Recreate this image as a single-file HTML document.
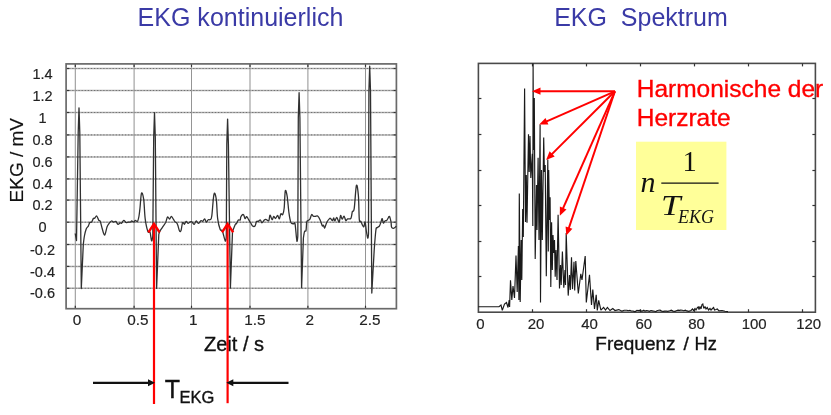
<!DOCTYPE html>
<html><head><meta charset="utf-8"><style>
html,body{margin:0;padding:0;background:#fff;}
body{width:831px;height:415px;overflow:hidden;position:relative;}
svg{position:absolute;left:0;top:0;will-change:transform;}
text{font-family:"Liberation Sans",sans-serif;stroke-width:0.35px;}
.gh{stroke:#b0b0b0;stroke-width:1.5;fill:none;}
.gd{stroke:#707070;stroke-width:1;stroke-dasharray:1.2 1.9;fill:none;}
.gv{stroke:#959595;stroke-width:1.05;fill:none;}
.tly{font-size:14.5px;fill:#222;stroke:#222;stroke-width:0.18px;}
.tk{stroke:#333;stroke-width:1.2;}
.tl{font-size:15.3px;fill:#222;stroke:#222;stroke-width:0.18px;}
.tr{font-size:15px;fill:#222;stroke:#222;stroke-width:0.18px;}
</style></head><body>
<svg width="831" height="415" viewBox="0 0 831 415">
<text x="137.6" y="25.6" font-size="26" fill="#3a3aa6" stroke="none" textLength="205.8" lengthAdjust="spacingAndGlyphs">EKG kontinuierlich</text>
<text x="554.2" y="25.6" font-size="26" fill="#3a3aa6" stroke="none" xml:space="preserve" textLength="173.6" lengthAdjust="spacingAndGlyphs">EKG  Spektrum</text>
<line x1="66.1" y1="68.5" x2="396.4" y2="68.5" class="gh"/><line x1="66.1" y1="68.5" x2="396.4" y2="68.5" class="gd"/><line x1="66.1" y1="68.5" x2="69.1" y2="68.5" class="tk"/><line x1="393.4" y1="68.5" x2="396.4" y2="68.5" class="tk"/><line x1="66.1" y1="90.5" x2="396.4" y2="90.5" class="gh"/><line x1="66.1" y1="90.5" x2="396.4" y2="90.5" class="gd"/><line x1="66.1" y1="90.5" x2="69.1" y2="90.5" class="tk"/><line x1="393.4" y1="90.5" x2="396.4" y2="90.5" class="tk"/><line x1="66.1" y1="112.5" x2="396.4" y2="112.5" class="gh"/><line x1="66.1" y1="112.5" x2="396.4" y2="112.5" class="gd"/><line x1="66.1" y1="112.5" x2="69.1" y2="112.5" class="tk"/><line x1="393.4" y1="112.5" x2="396.4" y2="112.5" class="tk"/><line x1="66.1" y1="134.9" x2="396.4" y2="134.9" class="gh"/><line x1="66.1" y1="134.9" x2="396.4" y2="134.9" class="gd"/><line x1="66.1" y1="134.9" x2="69.1" y2="134.9" class="tk"/><line x1="393.4" y1="134.9" x2="396.4" y2="134.9" class="tk"/><line x1="66.1" y1="156.9" x2="396.4" y2="156.9" class="gh"/><line x1="66.1" y1="156.9" x2="396.4" y2="156.9" class="gd"/><line x1="66.1" y1="156.9" x2="69.1" y2="156.9" class="tk"/><line x1="393.4" y1="156.9" x2="396.4" y2="156.9" class="tk"/><line x1="66.1" y1="178.9" x2="396.4" y2="178.9" class="gh"/><line x1="66.1" y1="178.9" x2="396.4" y2="178.9" class="gd"/><line x1="66.1" y1="178.9" x2="69.1" y2="178.9" class="tk"/><line x1="393.4" y1="178.9" x2="396.4" y2="178.9" class="tk"/><line x1="66.1" y1="200.1" x2="396.4" y2="200.1" class="gh"/><line x1="66.1" y1="200.1" x2="396.4" y2="200.1" class="gd"/><line x1="66.1" y1="200.1" x2="69.1" y2="200.1" class="tk"/><line x1="393.4" y1="200.1" x2="396.4" y2="200.1" class="tk"/><line x1="66.1" y1="222.2" x2="396.4" y2="222.2" class="gh"/><line x1="66.1" y1="222.2" x2="396.4" y2="222.2" class="gd"/><line x1="66.1" y1="222.2" x2="69.1" y2="222.2" class="tk"/><line x1="393.4" y1="222.2" x2="396.4" y2="222.2" class="tk"/><line x1="66.1" y1="244.5" x2="396.4" y2="244.5" class="gh"/><line x1="66.1" y1="244.5" x2="396.4" y2="244.5" class="gd"/><line x1="66.1" y1="244.5" x2="69.1" y2="244.5" class="tk"/><line x1="393.4" y1="244.5" x2="396.4" y2="244.5" class="tk"/><line x1="66.1" y1="266.4" x2="396.4" y2="266.4" class="gh"/><line x1="66.1" y1="266.4" x2="396.4" y2="266.4" class="gd"/><line x1="66.1" y1="266.4" x2="69.1" y2="266.4" class="tk"/><line x1="393.4" y1="266.4" x2="396.4" y2="266.4" class="tk"/><line x1="66.1" y1="288.3" x2="396.4" y2="288.3" class="gh"/><line x1="66.1" y1="288.3" x2="396.4" y2="288.3" class="gd"/><line x1="66.1" y1="288.3" x2="69.1" y2="288.3" class="tk"/><line x1="393.4" y1="288.3" x2="396.4" y2="288.3" class="tk"/><line x1="75.3" y1="63.9" x2="75.3" y2="308.7" class="gv"/><line x1="75.3" y1="63.9" x2="75.3" y2="66.9" class="tk"/><line x1="75.3" y1="305.7" x2="75.3" y2="308.7" class="tk"/><line x1="134.1" y1="63.9" x2="134.1" y2="308.7" class="gv"/><line x1="134.1" y1="63.9" x2="134.1" y2="66.9" class="tk"/><line x1="134.1" y1="305.7" x2="134.1" y2="308.7" class="tk"/><line x1="191.5" y1="63.9" x2="191.5" y2="308.7" class="gv"/><line x1="191.5" y1="63.9" x2="191.5" y2="66.9" class="tk"/><line x1="191.5" y1="305.7" x2="191.5" y2="308.7" class="tk"/><line x1="250" y1="63.9" x2="250" y2="308.7" class="gv"/><line x1="250" y1="63.9" x2="250" y2="66.9" class="tk"/><line x1="250" y1="305.7" x2="250" y2="308.7" class="tk"/><line x1="307.9" y1="63.9" x2="307.9" y2="308.7" class="gv"/><line x1="307.9" y1="63.9" x2="307.9" y2="66.9" class="tk"/><line x1="307.9" y1="305.7" x2="307.9" y2="308.7" class="tk"/><line x1="365.5" y1="63.9" x2="365.5" y2="308.7" class="gv"/><line x1="365.5" y1="63.9" x2="365.5" y2="66.9" class="tk"/><line x1="365.5" y1="305.7" x2="365.5" y2="308.7" class="tk"/>
<rect x="66.1" y="63.9" width="330.3" height="244.8" fill="none" stroke="#6a6a6a" stroke-width="1.7"/>
<path d="M75.2,233.5 L76.5,240.5 L78.2,132.8 L79,107.8 L79.8,132.8 L81.3,288.5 L83.3,244.5 C83.3,244.5 84,238.1 84.5,235.5 C85,232.9 85.6,230.6 86.2,229 C86.8,227.4 87.7,227.2 88.3,226.1 C88.9,225 89.2,223.2 89.8,222.5 C90.3,221.8 91,222.8 91.6,222.1 C92.2,221.4 92.9,219.2 93.4,218.5 C93.9,217.8 94.2,218.5 94.8,218.1 C95.3,217.7 96,215.6 96.7,216 C97.4,216.4 98.2,219.4 98.8,220.3 C99.4,221.2 99.8,220.1 100.3,221.4 C100.8,222.7 101.4,225.9 102.1,228.2 C102.8,230.5 103.8,235.3 104.6,235.1 C105.4,234.9 106.3,228.8 107.1,226.8 C107.9,224.8 108.6,224.2 109.3,223.2 C110,222.2 110.8,221.2 111.5,221 C112.2,220.8 112.9,222 113.6,222.1 C114.3,222.2 115.1,221 115.8,221.4 C116.5,221.8 117.3,224.1 118,224.3 C118.7,224.5 119.6,223 120.2,222.8 C120.8,222.6 121,223.6 121.6,223.2 C122.2,222.8 123.1,220.4 123.8,220.3 C124.5,220.2 125.2,222.2 125.9,222.5 C126.6,222.8 127.4,222.2 128.1,222.1 C128.8,222 129.7,222.3 130.3,222.1 C130.9,221.9 131.1,221 131.7,221 C132.3,221 133.3,222.2 133.9,222.1 C134.5,222 134.7,220.4 135.3,220.3 C135.9,220.2 136.9,222.1 137.5,221.4 C138.1,220.7 138.6,218.2 139,216 C139.4,213.8 139.6,211.8 140,208 C140.4,204.2 140.9,194.6 141.5,193.2 C142.1,191.8 143.1,195.1 143.7,199.4 C144.3,203.7 144.5,213.5 145.2,218.9 C145.9,224.3 147.1,229.4 147.9,231.6 C148.7,233.8 149.4,230.4 150,232 C150.6,233.6 151.1,240.2 151.6,240.9 C152.1,241.6 152.8,236 152.8,236 L153.7,137.7 L154.5,112.7 L155.3,137.7 L156.6,288.4 L158.8,234.4 C158.8,234.4 159.4,232.1 160,230.9 C160.6,229.7 161.5,228.7 162.4,227.3 C163.3,225.9 164.8,224.2 165.7,222.5 C166.5,220.8 166.8,217.6 167.5,217 C168.2,216.4 168.9,219.2 169.6,219.1 C170.2,219 170.7,216.3 171.4,216.4 C172.1,216.5 173,218.8 173.6,219.7 C174.2,220.6 174.5,221.3 175.1,221.9 C175.7,222.5 176.4,222.4 176.9,223.1 C177.4,223.8 177.7,224.8 178.1,226.1 C178.5,227.4 179.1,230.5 179.6,231.2 C180.1,231.9 180.6,231.8 181.1,230.3 C181.6,228.9 182,223.5 182.6,222.5 C183.2,221.5 183.8,224.5 184.4,224.3 C185,224.1 185.6,221.5 186.2,221.3 C186.8,221.2 187.3,223.3 188,223.4 C188.7,223.5 189.4,222.2 190.1,221.9 C190.8,221.7 191.2,221.5 191.9,221.9 C192.6,222.3 193.6,224.5 194.3,224.3 C195,224.2 195.4,221.2 196.1,221 C196.8,220.8 197.8,223.5 198.6,223.4 C199.4,223.3 200.3,221 201,220.7 C201.7,220.3 202.2,221.6 202.8,221.3 C203.4,221 204,218.7 204.6,218.8 C205.2,219 205.8,222 206.4,222.2 C207,222.3 207.5,220.1 208.2,219.7 C208.8,219.3 209.7,220.2 210.3,219.6 C210.9,219 211.2,220.1 211.8,215.9 C212.4,211.7 213.2,196.9 214,194.2 C214.8,191.4 215.7,195.3 216.3,199.4 C216.9,203.5 217,213.9 217.7,218.9 C218.3,223.9 219.4,227.4 220.2,229.4 C221,231.4 221.6,229.1 222.4,231 C223.2,232.9 224.7,240.2 225.3,241 C226,241.8 226.3,236 226.3,236 L226.8,144.1 L227.6,119.1 L228.4,144.1 L230.4,288.1 L232.5,231.6 C232.5,231.6 234.7,225.7 235.4,224.3 C236.1,223 236,224.2 236.5,223.5 C237,222.8 237.8,220.6 238.4,220 C239,219.4 239.8,220.5 240.2,220 C240.6,219.5 240.4,217.9 240.8,217 C241.2,216.1 242.1,214.9 242.6,214.6 C243.1,214.3 243.4,214.5 243.8,215.2 C244.2,215.8 244.6,218.2 245,218.5 C245.4,218.8 246.1,216.8 246.5,216.7 C246.9,216.6 247.2,217.2 247.7,218 C248.2,218.8 249.1,220.5 249.6,221.3 C250.1,222.1 250.3,222.2 250.8,223 C251.3,223.8 251.9,225.5 252.6,226 C253.3,226.5 254.3,226.7 255,226 C255.7,225.3 255.9,222.4 256.5,221.6 C257.1,220.8 257.7,221.6 258.3,221.3 C258.9,221 259.8,219.8 260.4,220 C261,220.2 261.2,222.8 261.9,222.8 C262.5,222.8 263.6,220.6 264.3,220 C265,219.4 265.1,219.3 265.8,219.4 C266.6,219.5 268.1,221.4 268.8,220.7 C269.5,220 269.4,215.4 270,215.2 C270.6,215 271.5,219.5 272.1,219.7 C272.7,219.9 273.1,216.6 273.7,216.4 C274.3,216.2 274.9,218.7 275.5,218.5 C276.1,218.3 277,215.4 277.6,215.5 C278.2,215.6 278.8,219.1 279.4,218.8 C279.9,218.5 280.3,214.4 280.9,213.7 C281.4,213 282.1,215.5 282.7,214.6 C283.2,213.7 283.8,211.9 284.2,208 C284.6,204.1 284.8,192.9 285.3,191 C285.8,189.1 286.6,192.8 287.2,196.5 C287.8,200.2 288.4,208.9 289,213.2 C289.6,217.5 290.1,220.7 290.9,222.5 C291.7,224.3 293,223.6 293.7,223.8 C294.4,224.1 294.6,221.1 295.1,224 C295.6,226.9 296.4,239 296.9,241 C297.3,243 297.8,236 297.8,236 L298.3,117.7 L299.1,92.7 L299.9,117.7 L301.6,287.7 L303.4,238 C303.4,238 304.1,232.8 304.5,231.6 C304.9,230.3 305.6,232.1 306,230.5 C306.4,228.9 306.4,223.8 306.7,222.2 C307,220.6 307.3,221.2 307.8,220.7 C308.3,220.2 309.2,220.2 309.9,219.2 C310.5,218.2 311.1,215.1 311.7,214.6 C312.2,214.1 312.6,215.8 313.2,216.1 C313.8,216.4 314.3,216.4 315,216.4 C315.7,216.4 316.7,215.6 317.4,215.8 C318.1,216 318.5,216.8 319,217.7 C319.5,218.6 319.9,219.7 320.5,221 C321.1,222.3 321.8,225.1 322.3,225.8 C322.8,226.5 323.1,224.8 323.5,225.2 C323.9,225.5 324.1,228.4 324.7,227.9 C325.2,227.4 326,223.8 326.8,222.2 C327.6,220.6 328.9,219.2 329.5,218.6 C330.1,218 330.2,218.2 330.7,218.6 C331.2,218.9 332,220.8 332.5,220.7 C333,220.6 333.3,217.9 333.7,218 C334.1,218.1 334.4,221.1 334.9,221 C335.4,220.9 336,217.1 336.7,217.3 C337.4,217.5 338.5,222.5 339.1,222.2 C339.8,221.9 340.1,216 340.6,215.5 C341.1,215 341.5,219.1 342.1,219.2 C342.7,219.3 343.4,215.9 344,216.1 C344.6,216.3 345.2,219.9 345.8,220.4 C346.4,220.9 346.8,219.2 347.6,218.9 C348.5,218.6 350.1,219.5 350.9,218.3 C351.7,217.1 351.8,213.2 352.4,211.6 C352.9,210 353.5,212.9 354.2,208.6 C354.9,204.2 355.7,187.7 356.4,185.5 C357.1,183.3 357.9,190 358.4,195.7 C358.9,201.4 358.9,215.2 359.3,219.5 C359.7,223.8 360.2,220.3 360.8,221.3 C361.4,222.3 362.2,224.6 362.7,225.5 C363.2,226.4 363.5,227.3 363.9,226.7 C364.3,226.1 364.7,221.3 365.1,221.9 C365.5,222.5 365.8,227.3 366.2,230 C366.6,232.7 367.3,237.4 367.7,238.1 C368.1,238.8 368.5,234 368.5,234 L368.9,91.2 L369.7,66.2 L370.5,91.2 L371.8,293 L374.2,250 C374.2,250 375.4,233.7 375.9,230 C376.4,226.3 376.8,228.3 377.4,227.6 C378,226.9 378.9,226.8 379.5,225.8 C380.1,224.9 380.6,223.1 381,221.9 C381.4,220.7 381.8,218.4 382.2,218.6 C382.6,218.8 382.9,222.7 383.4,223.1 C383.8,223.5 384.3,221.4 384.9,221 C385.4,220.6 386.2,220.8 386.7,220.4 C387.2,220 387.5,219 388,218.3 C388.5,217.6 389,215.8 389.5,216.4 C390,217 390.6,220.1 391,221.9 C391.4,223.7 391.1,226.2 391.6,227.3 C392.1,228.4 393.2,228.4 394,228.2 C394.8,228 396.3,226.1 396.3,226.1" fill="none" stroke="#303030" stroke-width="1.3" stroke-linejoin="round"/>
<text x="42.5" y="78.6" class="tly" text-anchor="middle">1.4</text><text x="42.5" y="100.6" class="tly" text-anchor="middle">1.2</text><text x="42.5" y="122.6" class="tly" text-anchor="middle">1</text><text x="42.5" y="145" class="tly" text-anchor="middle">0.8</text><text x="42.5" y="167" class="tly" text-anchor="middle">0.6</text><text x="42.5" y="189" class="tly" text-anchor="middle">0.4</text><text x="42.5" y="210.2" class="tly" text-anchor="middle">0.2</text><text x="42.5" y="232.3" class="tly" text-anchor="middle">0</text><text x="42.5" y="254.6" class="tly" text-anchor="middle">-0.2</text><text x="42.5" y="276.5" class="tly" text-anchor="middle">-0.4</text><text x="42.5" y="298.4" class="tly" text-anchor="middle">-0.6</text>
<text x="77.1" y="324.7" class="tl" text-anchor="middle">0</text><text x="138" y="324.7" class="tl" text-anchor="middle">0.5</text><text x="193.3" y="324.7" class="tl" text-anchor="middle">1</text><text x="254.9" y="324.7" class="tl" text-anchor="middle">1.5</text><text x="309.8" y="324.7" class="tl" text-anchor="middle">2</text><text x="370" y="324.7" class="tl" text-anchor="middle">2.5</text>
<text transform="translate(22.8,160.2) rotate(-90)" text-anchor="middle" font-size="19" fill="#111" stroke="#111" style="stroke-width:0.15px">EKG / mV</text>
<text x="204" y="350.8" font-size="20" fill="#111" stroke="#111">Zeit / s</text>
<line x1="154.0" y1="224.6" x2="154.0" y2="404.0" stroke="#ff0000" stroke-width="2.2"/><polyline points="148.4,232.4 154.0,223.9 159.6,232.4" fill="none" stroke="#ff0000" stroke-width="2.5" stroke-linejoin="miter"/>
<line x1="227.6" y1="224.6" x2="227.6" y2="403.2" stroke="#ff0000" stroke-width="2.2"/><polyline points="222,232.4 227.6,223.9 233.2,232.4" fill="none" stroke="#ff0000" stroke-width="2.5" stroke-linejoin="miter"/>
<line x1="93" y1="382.8" x2="149" y2="382.8" stroke="#111" stroke-width="2.2"/>
<polygon points="155,382.8 148,379.3 148,386.3" fill="#111"/>
<line x1="233" y1="382.8" x2="288.5" y2="382.8" stroke="#111" stroke-width="2.2"/>
<polygon points="226.3,382.8 233.3,379.3 233.3,386.3" fill="#111"/>
<text x="164.7" y="397.6" font-size="25" fill="#111" stroke="#111">T</text>
<text x="179.5" y="402.6" font-size="16.5" fill="#111" stroke="#111">EKG</text>

<text x="636.7" y="96.9" font-size="24.5" fill="#ff0000" stroke="#ff0000">Harmonische der</text>
<text x="636.7" y="126.2" font-size="24.5" fill="#ff0000" stroke="#ff0000">Herzrate</text>
<rect x="478.4" y="63.4" width="337" height="248.8" fill="none" stroke="#4a4a4a" stroke-width="1.6"/>
<line x1="532.5" y1="312.2" x2="532.5" y2="309.2" class="tk"/><line x1="532.5" y1="63.4" x2="532.5" y2="66.4" class="tk"/><line x1="586.5" y1="312.2" x2="586.5" y2="309.2" class="tk"/><line x1="586.5" y1="63.4" x2="586.5" y2="66.4" class="tk"/><line x1="640.5" y1="312.2" x2="640.5" y2="309.2" class="tk"/><line x1="640.5" y1="63.4" x2="640.5" y2="66.4" class="tk"/><line x1="694.5" y1="312.2" x2="694.5" y2="309.2" class="tk"/><line x1="694.5" y1="63.4" x2="694.5" y2="66.4" class="tk"/><line x1="748.5" y1="312.2" x2="748.5" y2="309.2" class="tk"/><line x1="748.5" y1="63.4" x2="748.5" y2="66.4" class="tk"/><line x1="802.5" y1="312.2" x2="802.5" y2="309.2" class="tk"/><line x1="802.5" y1="63.4" x2="802.5" y2="66.4" class="tk"/><line x1="478.4" y1="98.5" x2="481.4" y2="98.5" class="tk"/><line x1="812.4" y1="98.5" x2="815.4" y2="98.5" class="tk"/><line x1="478.4" y1="134.5" x2="481.4" y2="134.5" class="tk"/><line x1="812.4" y1="134.5" x2="815.4" y2="134.5" class="tk"/><line x1="478.4" y1="170.5" x2="481.4" y2="170.5" class="tk"/><line x1="812.4" y1="170.5" x2="815.4" y2="170.5" class="tk"/><line x1="478.4" y1="205.5" x2="481.4" y2="205.5" class="tk"/><line x1="812.4" y1="205.5" x2="815.4" y2="205.5" class="tk"/><line x1="478.4" y1="241.5" x2="481.4" y2="241.5" class="tk"/><line x1="812.4" y1="241.5" x2="815.4" y2="241.5" class="tk"/><line x1="478.4" y1="276.5" x2="481.4" y2="276.5" class="tk"/><line x1="812.4" y1="276.5" x2="815.4" y2="276.5" class="tk"/>
<path d="M478.3,306.7 499,306.7 501,305 502.3,310.3 504.5,304 506.5,302.5 508,307.5 509.2,300 509.6,307 510.5,280.3 511.8,300 513,286 514.5,298 516,255.6 517.2,292 518.4,246 518.9,300 519.3,193.4 520.2,302 521.2,240 521.8,280 522.7,209 523.3,237 524.6,88.4 525.5,222 526.3,175 527,222.8 528.5,134.2 529.2,172 530,136 530.8,178 532.3,153.9 532.8,226 533.1,63.4 533.5,150 534.3,98 535.2,259 536.5,185 537,230 538.1,157.8 539,240 540.1,124.5 540.5,302.5 541.5,170 542.3,240 543.7,137.5 544.4,172 545.2,165 546.3,276.3 547.8,159.5 548.3,251.6 548.7,170 549.5,220 550.1,197.3 550.8,287 551.6,222.3 552.3,270 553,235 553.8,253 554.5,240 555.2,276.8 556,250 557,280 558.1,214.7 559.5,288.4 560.5,265 561.2,285 562.4,251.6 563.8,287.7 565,270 565.5,285 566.2,233 568.2,295.6 569.5,275 570.3,290 571.5,257.3 572.5,289.1 574,261.7 574.7,290.6 575.8,261 578.3,293.5 580.8,273.8 582,280 585.2,256 586.3,302.5 589.5,274.9 591.5,305 592.8,289.5 594.5,309 596.2,294.9 597.3,310.5 598.7,300.4 600.9,310.1 603.6,307.4 605.5,310 607.4,307.4 610,310.5 612.8,308.5 615,310.5 618.8,309.6 620.5,310.6 621.7,311.1 622.7,310.9 624.1,310.2 625.6,310.2 627,310.2 628.1,310.7 629.9,310.3 631.2,311 633.1,311 634.5,311.6 635.6,311.4 636.9,310.3 638,310.6 639.8,310.4 641.4,311.1 642.7,310.9 643.8,310.2 645,311.1 646.4,310.6 648,310.8 649.3,311.3 651,310.5 652.6,310.9 654.5,311.2 655.8,311.6 656.9,310.7 658.6,310.3 660.1,310.2 661.8,311.2 663.4,311.4 664.7,311.1 666.3,311 667.7,311.4 669.7,310.8 671.3,310.2 673,311.1 675,311.3 676.3,310.7 678,310.1 679.4,310.4 680.6,310.2 682.3,310.3 683.6,310.7 685.4,310.2 686.9,310.9 688.8,311.3 691,310.5 692.5,309 693.5,310.5 695,308.5 696,310 697.5,307.5 698.3,307 699,309.5 700,306.5 701,309 702,304.5 702.8,304 703.8,308.5 705,306.5 706,309 707.3,307.5 708.5,310 710,308.5 711,310 712.5,308.5 713.6,307.5 714.5,310 716,309.5 717.3,309 719,310.8 722,310.5 725,311.3 728,311.6" fill="none" stroke="#1a1a1a" stroke-width="1.15" stroke-linejoin="miter" stroke-miterlimit="2"/>
<text x="480.5" y="328.8" class="tr" text-anchor="middle">0</text><text x="536" y="328.8" class="tr" text-anchor="middle">20</text><text x="589.5" y="328.8" class="tr" text-anchor="middle">40</text><text x="643.8" y="328.8" class="tr" text-anchor="middle">60</text><text x="696.6" y="328.8" class="tr" text-anchor="middle">80</text><text x="754.2" y="328.8" class="tr" text-anchor="middle">100</text><text x="808.7" y="328.8" class="tr" text-anchor="middle">120</text>
<text x="595.3" y="350.4" font-size="19" fill="#111" xml:space="preserve" stroke="#111">Frequenz</text>
<text x="683.4" y="350.4" font-size="19" fill="#111" stroke="#111">/</text>
<text x="694.6" y="350.4" font-size="19" fill="#111" textLength="22.4" lengthAdjust="spacingAndGlyphs" stroke="#111">Hz</text>
<line x1="614.9" y1="91.3" x2="539.5" y2="91.2" stroke="#ff0000" stroke-width="2.0"/><polygon points="532,91.2 540.5,87.6 540.5,94.8" fill="#ff0000"/><line x1="614.9" y1="91.3" x2="546.1" y2="121.6" stroke="#ff0000" stroke-width="2.0"/><polygon points="539.2,124.6 545.5,117.9 548.4,124.5" fill="#ff0000"/><line x1="614.9" y1="91.3" x2="551.4" y2="154.6" stroke="#ff0000" stroke-width="2.0"/><polygon points="546.1,159.9 549.6,151.3 554.7,156.4" fill="#ff0000"/><line x1="614.9" y1="91.3" x2="562.8" y2="208.9" stroke="#ff0000" stroke-width="2.0"/><polygon points="559.8,215.8 559.9,206.6 566.5,209.5" fill="#ff0000"/><line x1="614.9" y1="91.3" x2="568.7" y2="228.5" stroke="#ff0000" stroke-width="2.0"/><polygon points="566.3,235.6 565.6,226.4 572.4,228.7" fill="#ff0000"/>
<rect x="636" y="141.7" width="90.4" height="88.3" fill="#ffff99"/>
<text x="640.5" y="191.6" font-size="30" font-style="italic" style="font-family:'Liberation Serif',serif" fill="#111">n</text>
<text x="682.5" y="171.1" font-size="28.5" style="font-family:'Liberation Serif',serif" fill="#111">1</text>
<line x1="661.3" y1="183.2" x2="718.6" y2="183.2" stroke="#111" stroke-width="1.3"/>
<text x="661" y="214.5" font-size="30" font-style="italic" style="font-family:'Liberation Serif',serif" fill="#111" textLength="19.5" lengthAdjust="spacingAndGlyphs">T</text>
<text x="678" y="223.2" font-size="18" font-style="italic" style="font-family:'Liberation Serif',serif" fill="#111">EKG</text>
</svg>
</body></html>
